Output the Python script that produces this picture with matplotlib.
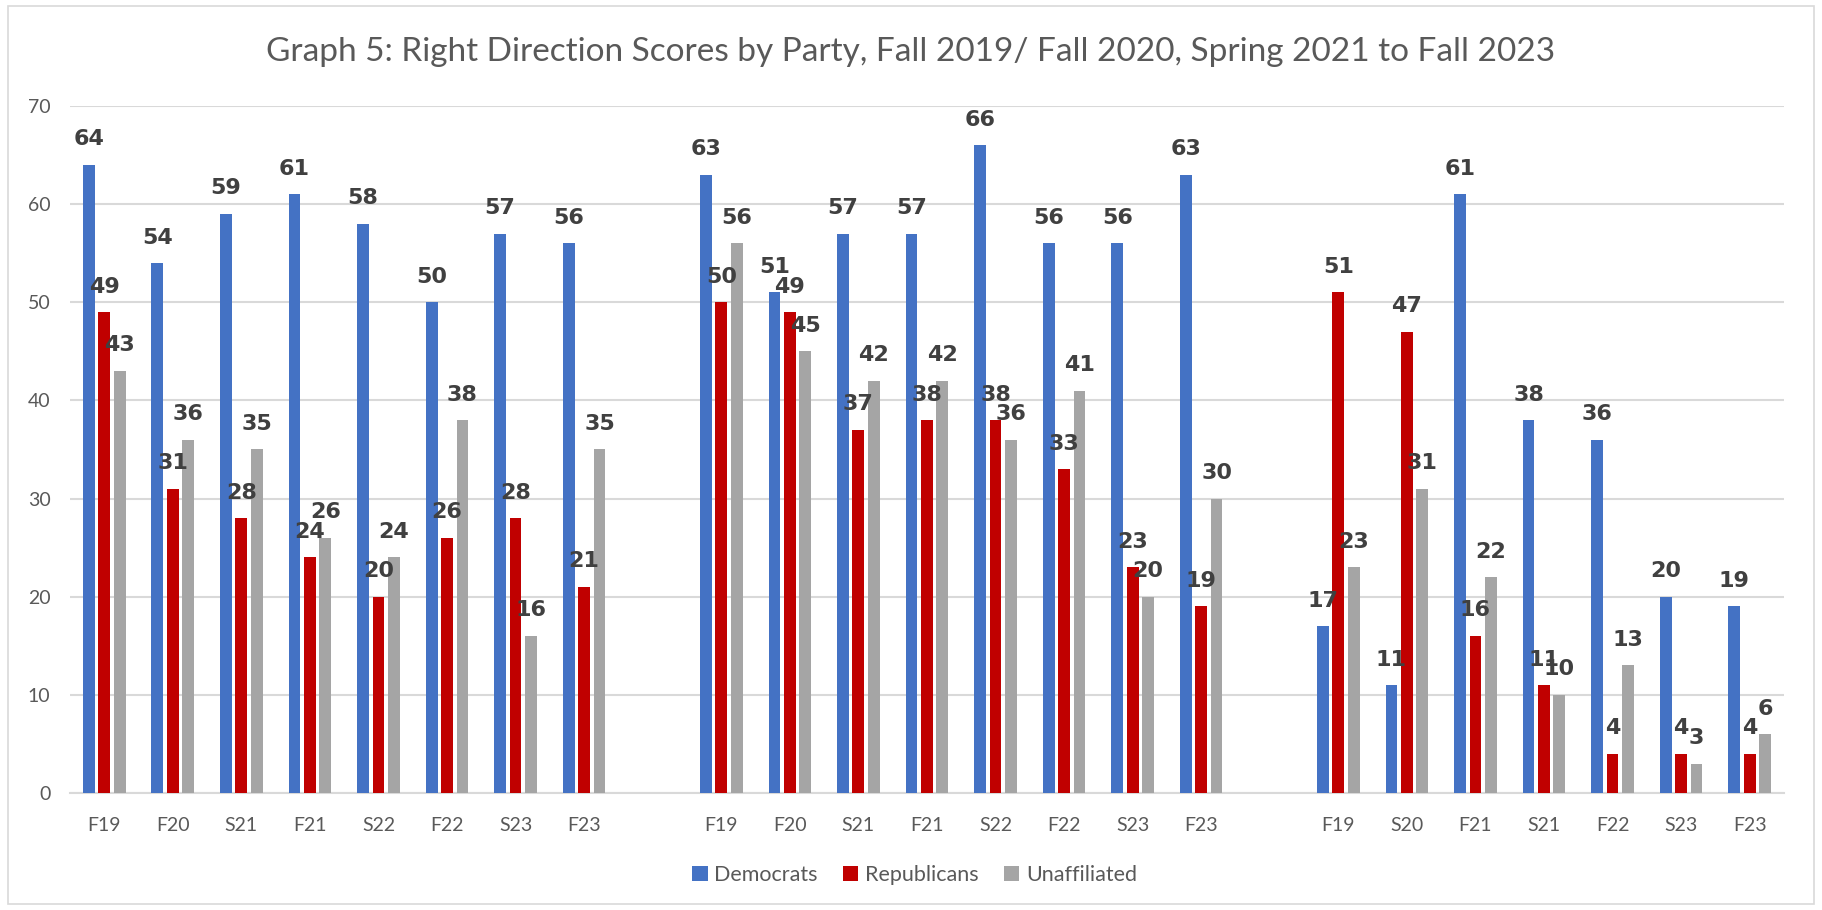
import numpy as np
import matplotlib
matplotlib.use('Agg')
import matplotlib.pyplot as plt
from matplotlib.patches import Rectangle

# Data (blank entries are the empty slots between the three blocks)
categories = ['F19', 'F20', 'S21', 'F21', 'S22', 'F22', 'S23', 'F23', '',
              'F19', 'F20', 'S21', 'F21', 'S22', 'F22', 'S23', 'F23', '',
              'F19', 'S20', 'F21', 'S21', 'F22', 'S23', 'F23']
democrats = [64, 54, 59, 61, 58, 50, 57, 56, None,
             63, 51, 57, 57, 66, 56, 56, 63, None,
             17, 11, 61, 38, 36, 20, 19]
republicans = [49, 31, 28, 24, 20, 26, 28, 21, None,
               50, 49, 37, 38, 38, 33, 23, 19, None,
               51, 47, 16, 11, 4, 4, 4]
unaffiliated = [43, 36, 35, 26, 24, 38, 16, 35, None,
                56, 45, 42, 42, 36, 41, 20, 30, None,
                23, 31, 22, 10, 13, 3, 6]

series = [('Democrats', democrats, '#4472C4'),
          ('Republicans', republicans, '#C00000'),
          ('Unaffiliated', unaffiliated, '#A5A5A5')]

plt.rcParams['font.family'] = ['Lato', 'DejaVu Sans']

fig = plt.figure(figsize=(18.22, 9.10), dpi=100)
ax = fig.add_axes([0.0384, 0.1286, 0.9407, 0.755])

x = np.arange(len(categories))
bar_w = 0.172
step = 0.225

for i, (name, vals, col) in enumerate(series):
    v = np.array([np.nan if a is None else a for a in vals], dtype=float)
    pos = x + (i - 1) * step
    ax.bar(pos, np.nan_to_num(v), width=bar_w, color=col, label=name, zorder=3)
    # value labels above each bar
    for px, val in zip(pos, v):
        if np.isnan(val):
            continue
        ax.annotate(str(int(val)), (px, val), xytext=(0, 14), textcoords='offset points',
                    ha='center', va='baseline', fontsize=16, fontweight='bold',
                    color='#404040', family='DejaVu Sans', zorder=4)

ax.set_xlim(-0.5, len(categories) - 0.5)
ax.set_ylim(0, 70)
ax.set_yticks(range(0, 71, 10))
ax.set_xticks(x)
ax.set_xticklabels(categories)
ax.grid(axis='y', color='#D9D9D9', linewidth=1.5, zorder=0)
for s in ['top', 'right', 'left']:
    ax.spines[s].set_visible(False)
ax.spines['bottom'].set_color('#D9D9D9')
ax.spines['bottom'].set_linewidth(1.5)
ax.tick_params(axis='both', length=0, labelsize=14, labelcolor='#595959')
ax.tick_params(axis='x', pad=17)
ax.tick_params(axis='y', pad=14)

fig.suptitle('Graph 5: Right Direction Scores by Party, Fall 2019/ Fall 2020, Spring 2021 to Fall 2023',
             x=0.5, y=1 - 52 / 910, va='center', fontsize=24, color='#595959')

fig.legend(loc='center', bbox_to_anchor=(0.502, 1 - 875 / 910), ncol=3, frameon=False,
           fontsize=15.5, labelcolor='#595959', handlelength=0.7, handleheight=0.7,
           handletextpad=0.3, columnspacing=1.2)

fig.patches.append(Rectangle((8 / 1822, 6 / 910), 1806 / 1822, 898 / 910,
                             transform=fig.transFigure, fill=False,
                             edgecolor='#D9D9D9', linewidth=1.2))

fig.savefig('out.png', dpi=100, facecolor='white')
